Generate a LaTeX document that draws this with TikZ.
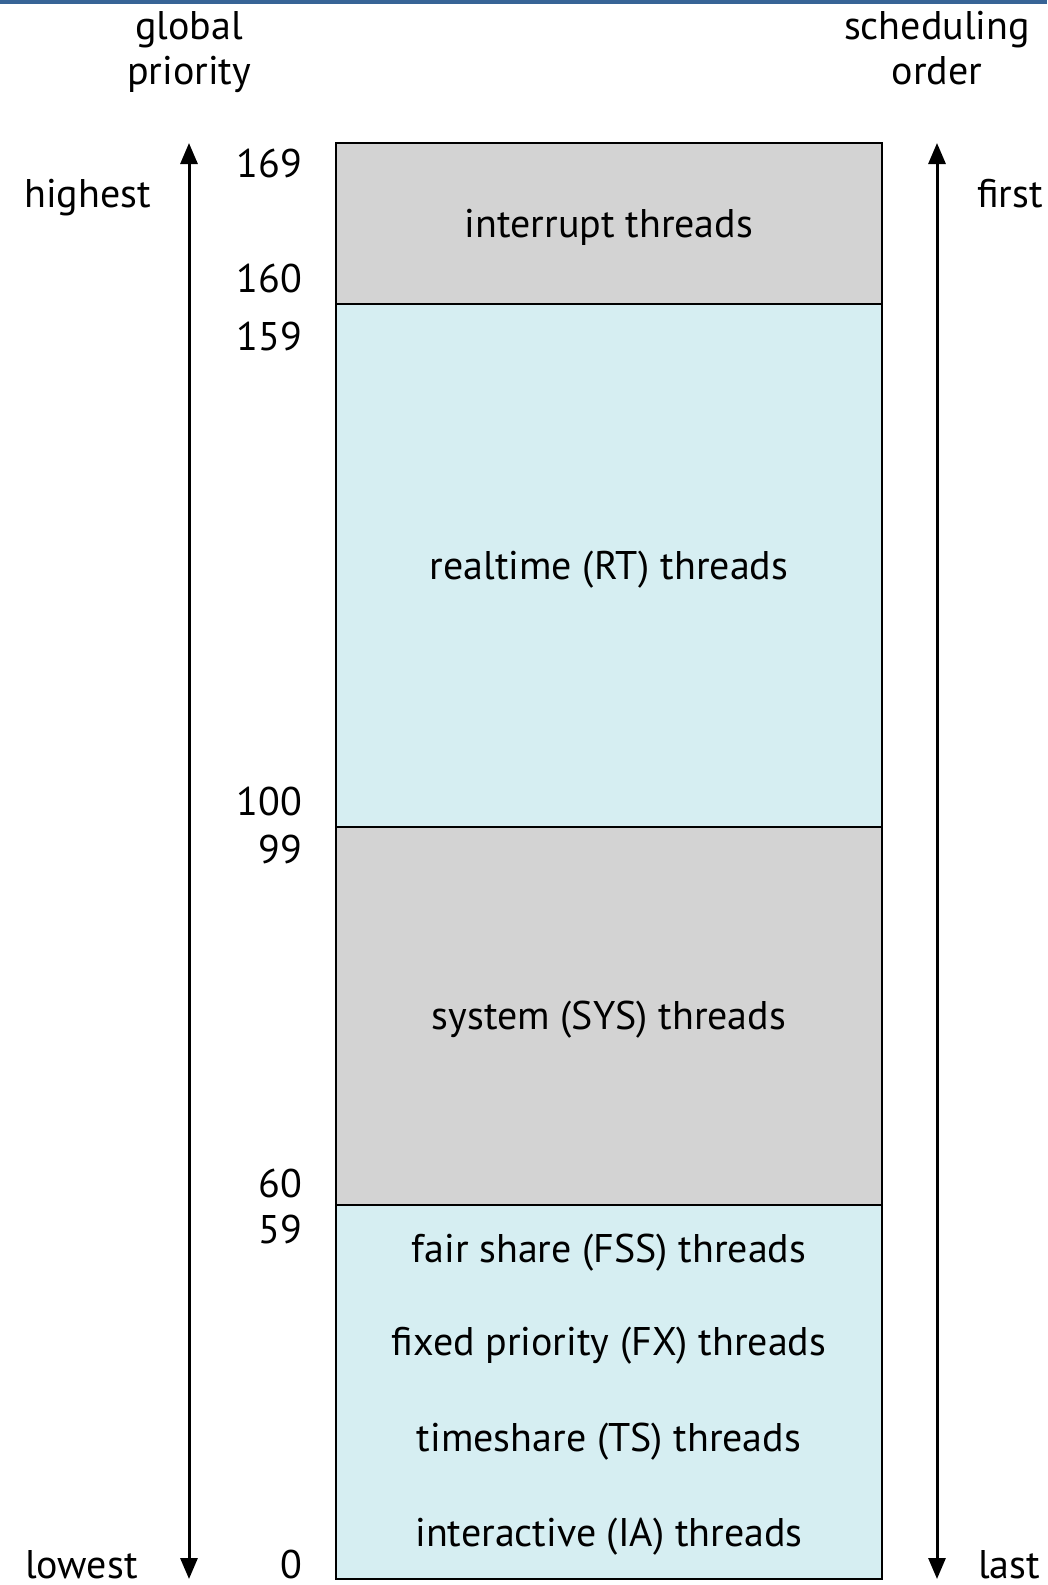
\documentclass[tikz,border=0pt]{standalone}
\usepackage{fontspec}
\setmainfont{PT Sans}
\usetikzlibrary{arrows.meta}
\definecolor{bargray}{RGB}{211,211,211}
\definecolor{barblue}{RGB}{214,238,242}
\definecolor{topline}{RGB}{55,100,150}
\tikzset{
  lbl/.style={anchor=base, inner sep=0pt, font=\fontsize{40}{46}\selectfont},
  num/.style={lbl, anchor=base east},
  lft/.style={lbl, anchor=base west},
  band/.style={draw=black, line width=2pt},
  axis/.style={line width=3pt, -{Triangle[width=17pt,length=21pt]}}
}
\begin{document}
\begin{tikzpicture}[x=1pt,y=-1pt]
\useasboundingbox (0,0) rectangle (1047,1585);
\fill[topline] (0,0) rectangle (1047,4);
% bands
\draw[band, fill=bargray] (336,143) rectangle (882,304);
\draw[band, fill=barblue] (336,304) rectangle (882,827);
\draw[band, fill=bargray] (336,827) rectangle (882,1205);
\draw[band, fill=barblue] (336,1205) rectangle (882,1579);
% headers
\node[lbl] (g1) at (189,39) {global};
\node[lbl] (g2) at (189,84) {priority};
\node[lbl] (s1) at (937,39) {scheduling};
\node[lbl] (s2) at (937,84) {order};
% axis ends
\coordinate (lt) at (189,143);
\coordinate (lb) at (189,1579);
\coordinate (rt) at (937,143);
\coordinate (rb) at (937,1579);
\coordinate (lm) at (189,860);
\coordinate (rm) at (937,860);
\draw[axis] (lm) -- (lt);
\draw[axis] (lm) -- (lb);
\draw[axis] (rm) -- (rt);
\draw[axis] (rm) -- (rb);
\node[lft] (hi) at (24,207) {highest};
\node[lft] (lo) at (25,1578) {lowest};
\node[lft] (fi) at (977,207) {first};
\node[lft] (la) at (978,1578) {last};
% numbers
\node[num] (n169) at (302,177) {169};
\node[num] (n160) at (302,292) {160};
\node[num] (n159) at (302,350) {159};
\node[num] (n100) at (302,815) {100};
\node[num] (n99) at (302,863) {99};
\node[num] (n60) at (302,1197) {60};
\node[num] (n59) at (302,1243) {59};
\node[num] (n0) at (302,1578) {0};
% band labels
\node[lbl] (t1) at (609,237) {interrupt threads};
\node[lbl] (t2) at (609,579) {realtime (RT) threads};
\node[lbl] (t3) at (609,1029) {system (SYS) threads};
\node[lbl] (t4) at (609,1262) {fair share (FSS) threads};
\node[lbl] (t5) at (609,1355) {fixed priority (FX) threads};
\node[lbl] (t6) at (609,1451) {timeshare (TS) threads};
\node[lbl] (t7) at (609,1546) {interactive (IA) threads};
\end{tikzpicture}
\end{document}
